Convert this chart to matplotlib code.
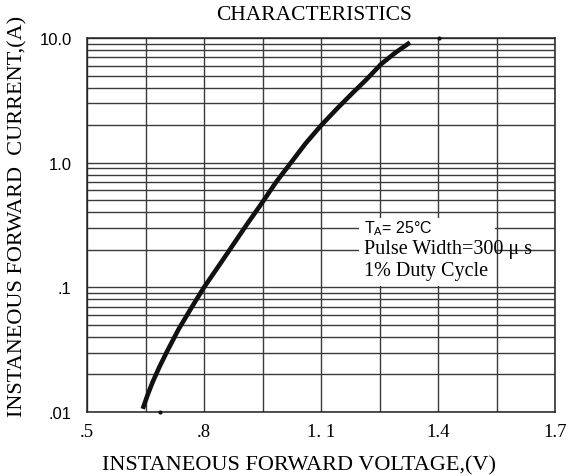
import matplotlib
matplotlib.use("Agg")
import matplotlib.pyplot as plt
from matplotlib.ticker import FixedLocator, LogLocator, NullFormatter
from matplotlib.patches import Rectangle

# === DATA ===
voltage = [0.643, 0.655, 0.668, 0.686, 0.705, 0.735, 0.767, 0.800, 0.840, 0.883,
           0.910, 0.949, 0.985, 1.023, 1.060, 1.099, 1.140, 1.179, 1.215, 1.254,
           1.290, 1.328]
current = [0.0106, 0.0136, 0.0173, 0.0231, 0.0305, 0.0462, 0.068, 0.10, 0.152, 0.24,
           0.32, 0.477, 0.70, 1.0, 1.42, 1.97, 2.69, 3.57, 4.6, 6.17,
           7.6, 9.2]

x_ticks = [0.5, 0.8, 1.1, 1.4, 1.7]
x_tick_labels = [".5", ".8", "1. 1", "1.4", "1.7"]
x_grid_minor = [0.65, 0.95, 1.25, 1.55]
y_ticks = [0.01, 0.1, 1.0, 10.0]
y_tick_labels = [".01", ".1", "1.0", "10.0"]

# stray dots in the scan
stray_v = [0.687, 1.402]
stray_i = [0.01, 10.0]

SERIF = "Liberation Serif"
SANS = "Liberation Sans"
GRID = "#3a3a3a"

# === FIGURE ===
fig = plt.figure(figsize=(5.74, 4.77), dpi=100)
W, H = 574, 477
ax = fig.add_axes([87 / W, (H - 413) / H, 468 / W, 374 / H])

ax.set_yscale("log")
ax.set_xlim(0.5, 1.7)
ax.set_ylim(0.01, 10.0)

ax.xaxis.set_major_locator(FixedLocator(x_ticks))
ax.xaxis.set_minor_locator(FixedLocator(x_grid_minor))
ax.set_xticklabels(x_tick_labels, fontfamily=SERIF, fontsize=13.5)
ax.yaxis.set_major_locator(FixedLocator(y_ticks))
ax.yaxis.set_minor_locator(LogLocator(base=10, subs=range(2, 10)))
ax.yaxis.set_minor_formatter(NullFormatter())
ax.set_yticklabels(y_tick_labels, fontfamily=SANS, fontsize=12)

ax.tick_params(axis="x", which="both", length=0, pad=8)
ax.tick_params(axis="y", which="both", length=0, pad=11)

ax.grid(True, which="both", color=GRID, linewidth=1.0, zorder=1)
ax.set_axisbelow(True)
for s in ax.spines.values():
    s.set_color("#222222")
    s.set_linewidth(1.1)

# white patch behind the note text
ax.add_patch(Rectangle((1.197, 0.1027), 1.546 - 1.197, 0.357 - 0.1027,
                       facecolor="white", edgecolor="none", zorder=2))

ax.plot(voltage, current, color="#111111", linewidth=3.3, zorder=3,
        solid_capstyle="butt", solid_joinstyle="round")
ax.plot(stray_v, stray_i, linestyle="none", marker=".", markersize=4,
        color="#111111", zorder=3, clip_on=False)

# === NOTES ===
ax.text(1.210, 0.302, "T$\\mathregular{_A}$= 25°C", fontfamily=SANS, fontsize=11.5,
        ha="left", va="center", zorder=4)
ax.text(1.210, 0.205, "Pulse Width=300 μ s", fontfamily=SERIF, fontsize=14.5,
        ha="left", va="center", zorder=4)
ax.text(1.210, 0.136, "1% Duty Cycle", fontfamily=SERIF, fontsize=14.5,
        ha="left", va="center", zorder=4)

# === TITLES ===
fig.text(314 / W, 1 - 15 / H, "CHARACTERISTICS", fontfamily=SERIF, fontsize=15.5,
         ha="center", va="center")
fig.text(299 / W, 1 - 466 / H, "INSTANEOUS FORWARD VOLTAGE,(V)", fontfamily=SERIF,
         fontsize=16, ha="center", va="center")
fig.text(18 / W, 1 - 216 / H, "INSTANEOUS FORWARD  CURRENT,(A)", fontfamily=SERIF,
         fontsize=16, ha="center", va="center", rotation=90)

fig.savefig("out.png", dpi=100)
